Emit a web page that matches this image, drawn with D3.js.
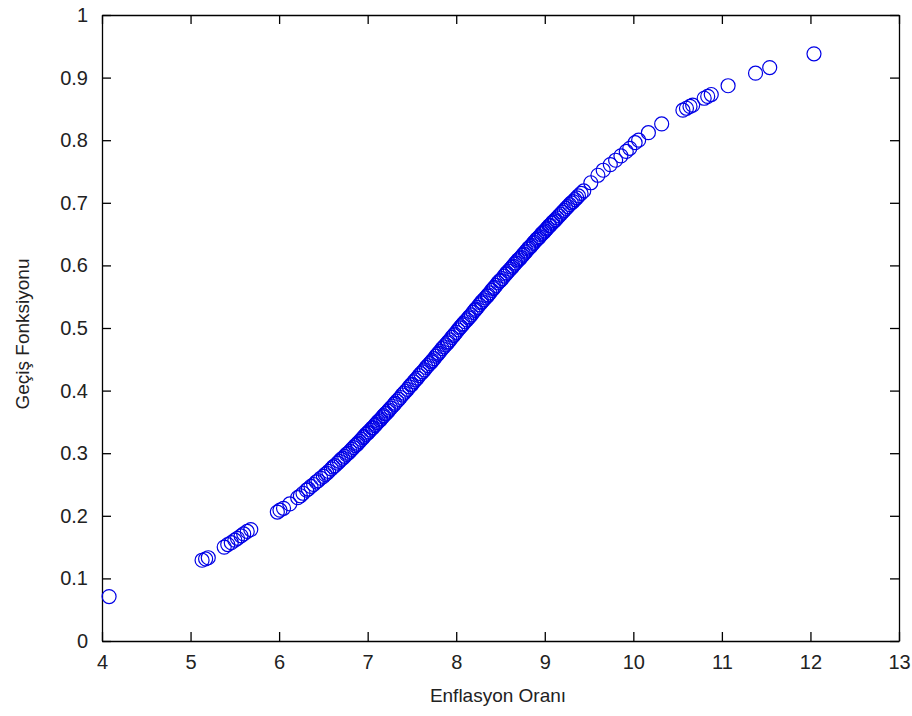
<!DOCTYPE html>
<html>
<head>
<meta charset="utf-8">
<script src="https://cdn.jsdelivr.net/npm/d3@7"></script>
<style>
  body { margin: 0; background: #fff; }
  text { font-family: "Liberation Sans", Arial, sans-serif; }
</style>
</head>
<body>
<div id="chart"></div>
<script>
// Enflasyon orani (x) and gecis fonksiyonu (y)
let rate = [
  4.08, 5.13, 5.17, 5.20, 5.38, 5.42, 5.46, 5.50, 5.53, 5.57, 5.60, 5.64, 5.68,
  5.98, 6.01, 6.05, 6.12, 6.21, 6.27, 6.31, 6.36, 6.42, 6.47, 6.52, 6.56, 6.61,
  6.66, 6.70, 6.74, 6.78, 6.82, 6.86, 6.89, 6.93, 6.96, 7.00, 7.03, 7.06, 7.09,
  7.12, 7.15, 7.18, 7.21, 7.24, 7.28, 7.31, 7.35, 7.39, 7.43, 7.47, 7.50, 7.54,
  7.58, 7.62, 7.66, 7.70, 7.73, 7.77, 7.80, 7.84, 7.88, 7.91, 7.95, 7.98, 8.02,
  8.05, 8.08, 8.12, 8.15, 8.19, 8.22, 8.26, 8.29, 8.33, 8.36, 8.40, 8.43, 8.47,
  8.50, 8.54, 8.57, 8.61, 8.64, 8.67, 8.70, 8.73, 8.76, 8.79, 8.82, 8.85, 8.88,
  8.91, 8.94, 8.97, 9.00, 9.03, 9.06, 9.09, 9.12, 9.16, 9.20, 9.24, 9.28, 9.32,
  9.36, 9.41, 9.52, 9.60, 9.66, 9.74, 9.80, 9.86, 9.92, 9.96, 10.02, 10.06,
  10.17, 10.32, 10.56, 10.60, 10.64, 10.67, 10.80, 10.84, 10.88, 11.07, 11.38,
  11.54, 12.04
];
let transition = [
  0.071, 0.129, 0.131, 0.133, 0.150, 0.154, 0.157, 0.161, 0.164, 0.168, 0.171, 0.175, 0.178,
  0.206, 0.209, 0.212, 0.219, 0.229, 0.236, 0.241, 0.247, 0.254, 0.260, 0.266, 0.271, 0.278,
  0.284, 0.290, 0.295, 0.300, 0.306, 0.312, 0.316, 0.322, 0.327, 0.332, 0.337, 0.341, 0.346,
  0.351, 0.355, 0.360, 0.364, 0.369, 0.375, 0.380, 0.386, 0.393, 0.399, 0.406, 0.410, 0.417,
  0.424, 0.430, 0.437, 0.443, 0.448, 0.455, 0.460, 0.467, 0.473, 0.478, 0.485, 0.490, 0.497,
  0.502, 0.507, 0.513, 0.518, 0.525, 0.530, 0.537, 0.542, 0.548, 0.553, 0.560, 0.565, 0.572,
  0.576, 0.583, 0.588, 0.594, 0.599, 0.604, 0.609, 0.613, 0.618, 0.623, 0.628, 0.632, 0.637,
  0.642, 0.646, 0.651, 0.655, 0.660, 0.664, 0.669, 0.673, 0.679, 0.685, 0.691, 0.697, 0.702,
  0.708, 0.715, 0.732, 0.744, 0.752, 0.761, 0.768, 0.775, 0.782, 0.787, 0.796, 0.800,
  0.812, 0.826, 0.848, 0.851, 0.854, 0.856, 0.867, 0.870, 0.873, 0.887, 0.907,
  0.916, 0.938
];
// the dense middle of the cloud
let rateDense = [
  6.24, 6.33, 6.39, 6.44, 6.50, 6.54, 6.59, 6.63, 6.68, 6.72, 6.76, 6.80, 6.84,
  6.88, 6.91, 6.95, 6.98, 7.01, 7.05, 7.08, 7.11, 7.14, 7.17, 7.20, 7.23, 7.26,
  7.30, 7.33, 7.37, 7.41, 7.45, 7.49, 7.52, 7.56, 7.60, 7.64, 7.68, 7.72, 7.75,
  7.79, 7.82, 7.86, 7.90, 7.93, 7.97, 8.00, 8.04, 8.07, 8.10, 8.14, 8.17, 8.21,
  8.24, 8.28, 8.31, 8.35, 8.38, 8.42, 8.45, 8.49, 8.52, 8.56, 8.59, 8.63, 8.66,
  8.69, 8.72, 8.75, 8.78, 8.81, 8.84, 8.87, 8.90, 8.93, 8.96, 8.99, 9.02, 9.05,
  9.08, 9.11, 9.14, 9.18, 9.22, 9.26, 9.30, 9.34, 9.38, 9.44
];
let transitionDense = [
  0.232, 0.243, 0.250, 0.256, 0.263, 0.268, 0.275, 0.280, 0.287, 0.292, 0.298, 0.303, 0.309,
  0.314, 0.319, 0.325, 0.330, 0.334, 0.340, 0.344, 0.349, 0.353, 0.358, 0.363, 0.367, 0.372,
  0.378, 0.383, 0.389, 0.396, 0.402, 0.409, 0.414, 0.420, 0.427, 0.433, 0.440, 0.446, 0.451,
  0.458, 0.463, 0.470, 0.476, 0.481, 0.488, 0.493, 0.500, 0.505, 0.510, 0.516, 0.521, 0.528,
  0.533, 0.540, 0.545, 0.551, 0.556, 0.563, 0.568, 0.575, 0.579, 0.586, 0.591, 0.597, 0.602,
  0.607, 0.611, 0.616, 0.621, 0.626, 0.630, 0.635, 0.640, 0.644, 0.649, 0.653, 0.658, 0.663,
  0.667, 0.671, 0.676, 0.682, 0.688, 0.694, 0.700, 0.705, 0.711, 0.719
];
let xTicks = [4, 5, 6, 7, 8, 9, 10, 11, 12, 13];
let yTicks = [0, 0.1, 0.2, 0.3, 0.4, 0.5, 0.6, 0.7, 0.8, 0.9, 1];

let width = 912;
let height = 716;
let padding = { top: 15, right: 13, bottom: 75, left: 102 };

// Set scales
let xScale = d3
  .scaleLinear()
  .domain([4, 13])
  .range([padding.left, width - padding.right]);
let yScale = d3
  .scaleLinear()
  .domain([0, 1])
  .range([height - padding.bottom, padding.top]);

let svg = d3
  .select("#chart")
  .append("svg")
  .attr("width", width)
  .attr("height", height);

// Axes, matlab style: ticks point inward on all four sides
let tickLen = 9;
let fmt = d => String(d);

svg
  .append("g")
  .attr("class", "axis")
  .attr("transform", `translate(0, ${height - padding.bottom})`)
  .call(d3.axisBottom(xScale).tickValues(xTicks).tickFormat(fmt).tickSizeInner(-tickLen).tickSizeOuter(0).tickPadding(14));
svg
  .append("g")
  .attr("class", "axis")
  .attr("transform", `translate(0, ${padding.top})`)
  .call(d3.axisTop(xScale).tickValues(xTicks).tickFormat("").tickSizeInner(-tickLen).tickSizeOuter(0));
svg
  .append("g")
  .attr("class", "axis")
  .attr("transform", `translate(${padding.left}, 0)`)
  .call(d3.axisLeft(yScale).tickValues(yTicks).tickFormat(fmt).tickSizeInner(-tickLen).tickSizeOuter(0).tickPadding(14));
svg
  .append("g")
  .attr("class", "axis")
  .attr("transform", `translate(${width - padding.right}, 0)`)
  .call(d3.axisRight(yScale).tickValues(yTicks).tickFormat("").tickSizeInner(-tickLen).tickSizeOuter(0));

svg.selectAll(".axis path, .axis line").attr("stroke", "#000").attr("stroke-width", 1.3);
svg.selectAll(".axis text").attr("font-size", 20).attr("fill", "#222")
  .attr("font-family", "'Liberation Sans', Arial, sans-serif");

// Axis labels
svg
  .append("text")
  .attr("x", 498)
  .attr("y", 702)
  .style("text-anchor", "middle")
  .attr("font-size", 19)
  .attr("fill", "#222")
  .text("Enflasyon Oranı");
svg
  .append("text")
  .attr("transform", `translate(29, 334) rotate(-90)`)
  .style("text-anchor", "middle")
  .attr("font-size", 19)
  .attr("fill", "#222")
  .text("Geçiş Fonksiyonu");

// Points
let pts = svg.append("g");
[[rate, transition], [rateDense, transitionDense]].forEach(([xs, ys]) => {
  pts
    .append("g")
    .selectAll("circle")
    .data(d3.range(xs.length))
    .enter()
    .append("circle")
    .attr("cx", i => xScale(xs[i]))
    .attr("cy", i => yScale(ys[i]))
    .attr("r", 7)
    .attr("fill", "none")
    .attr("stroke", "#0000e6")
    .attr("stroke-width", 1.2);
});
</script>
</body>
</html>
